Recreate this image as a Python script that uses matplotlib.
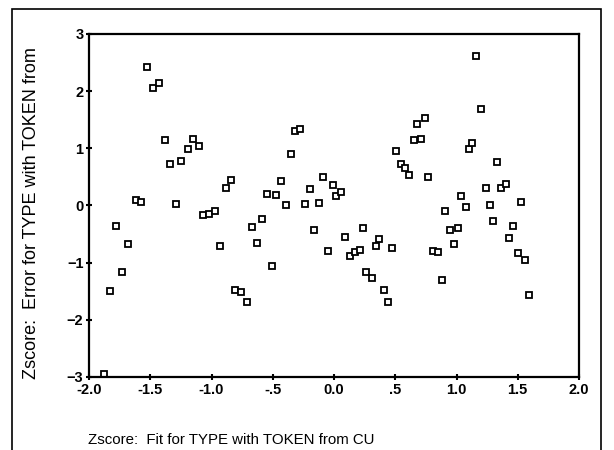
import matplotlib
matplotlib.use('Agg')
import matplotlib.pyplot as plt
from matplotlib.patches import Rectangle

# values
fit_z = [-1.88, -1.83, -1.78, -1.73, -1.68, -1.62, -1.575, -1.53, -1.48, -1.43,
         -1.38, -1.34, -1.29, -1.25, -1.19, -1.15, -1.10, -1.07, -1.02, -0.97,
         -0.93, -0.885, -0.84, -0.805, -0.76, -0.71, -0.67, -0.63, -0.585, -0.55,
         -0.51, -0.47, -0.43, -0.39, -0.355, -0.32, -0.28, -0.24, -0.195, -0.166,
         -0.125, -0.09, -0.05, -0.01, 0.016, 0.06, 0.09, 0.13, 0.17, 0.21,
         0.236, 0.265, 0.31, 0.34, 0.37, 0.41, 0.44, 0.47, 0.51, 0.546,
         0.58, 0.61, 0.65, 0.68, 0.71, 0.74, 0.77, 0.81, 0.85, 0.88,
         0.91, 0.946, 0.98, 1.01, 1.04, 1.077, 1.105, 1.13, 1.16, 1.20,
         1.24, 1.27, 1.30, 1.33, 1.36, 1.40, 1.43, 1.46, 1.50, 1.53,
         1.56, 1.59]
error_z = [-2.95, -1.50, -0.36, -1.17, -0.67, 0.10, 0.06, 2.42, 2.06, 2.14,
           1.14, 0.72, 0.03, 0.78, 0.98, 1.16, 1.04, -0.17, -0.15, -0.10,
           -0.71, 0.30, 0.44, -1.48, -1.51, -1.68, -0.38, -0.65, -0.23, 0.20,
           -1.06, 0.18, 0.43, 0.01, 0.90, 1.30, 1.34, 0.03, 0.28, -0.43,
           0.04, 0.50, -0.79, 0.36, 0.17, 0.24, -0.55, -0.88, -0.82, -0.77,
           -0.39, -1.16, -1.26, -0.70, -0.59, -1.48, -1.68, -0.75, 0.95, 0.72,
           0.65, 0.53, 1.14, 1.42, 1.16, 1.53, 0.49, -0.79, -0.82, -1.31,
           -0.09, -0.43, -0.68, -0.39, 0.17, -0.03, 0.98, 1.09, 2.62, 1.69,
           0.31, 0.01, -0.27, 0.76, 0.31, 0.37, -0.57, -0.35, -0.83, 0.06,
           -0.95, -1.56]

x_ticks = [-2.0, -1.5, -1.0, -0.5, 0.0, 0.5, 1.0, 1.5, 2.0]
x_tick_labels = ['-2.0', '-1.5', '-1.0', '-.5', '0.0', '.5', '1.0', '1.5', '2.0']
y_ticks = [-3, -2, -1, 0, 1, 2, 3]

plt.rcParams['font.family'] = ['Liberation Sans', 'DejaVu Sans']

fig = plt.figure(figsize=(6.14, 4.5), dpi=100)
ax = fig.add_axes([89 / 614, 1 - 377 / 450, 490 / 614, 343 / 450])

# outer frame (bottom edge is cut off in the scan)
fig.patches.append(Rectangle((12 / 614, -0.1), 589 / 614, 1.1 - 9 / 450,
                             transform=fig.transFigure, fill=False,
                             edgecolor='black', linewidth=1.2))

ax.plot(fit_z, error_z, linestyle='none', marker='s', markersize=4.5,
        markerfacecolor='white', markeredgecolor='black', markeredgewidth=1.3)

ax.set_xlim(-2.0, 2.0)
ax.set_ylim(-3, 3)
ax.set_xticks(x_ticks)
ax.set_xticklabels(x_tick_labels)
ax.set_yticks(y_ticks)
ax.tick_params(direction='inout', length=4, width=1.5, labelsize=10.5, pad=2)
for lab in ax.get_xticklabels() + ax.get_yticklabels():
    lab.set_fontweight('bold')
for sp in ax.spines.values():
    sp.set_linewidth(1.6)

ax.set_ylabel('Zscore:  Error for TYPE with TOKEN from', fontsize=13)
ax.yaxis.set_label_coords(-0.1, 0.478)
fig.text(88 / 614, 1 - 440 / 450, 'Zscore:  Fit for TYPE with TOKEN from CU',
         fontsize=10.8, ha='left', va='center')

plt.savefig('out.png', dpi=100)
